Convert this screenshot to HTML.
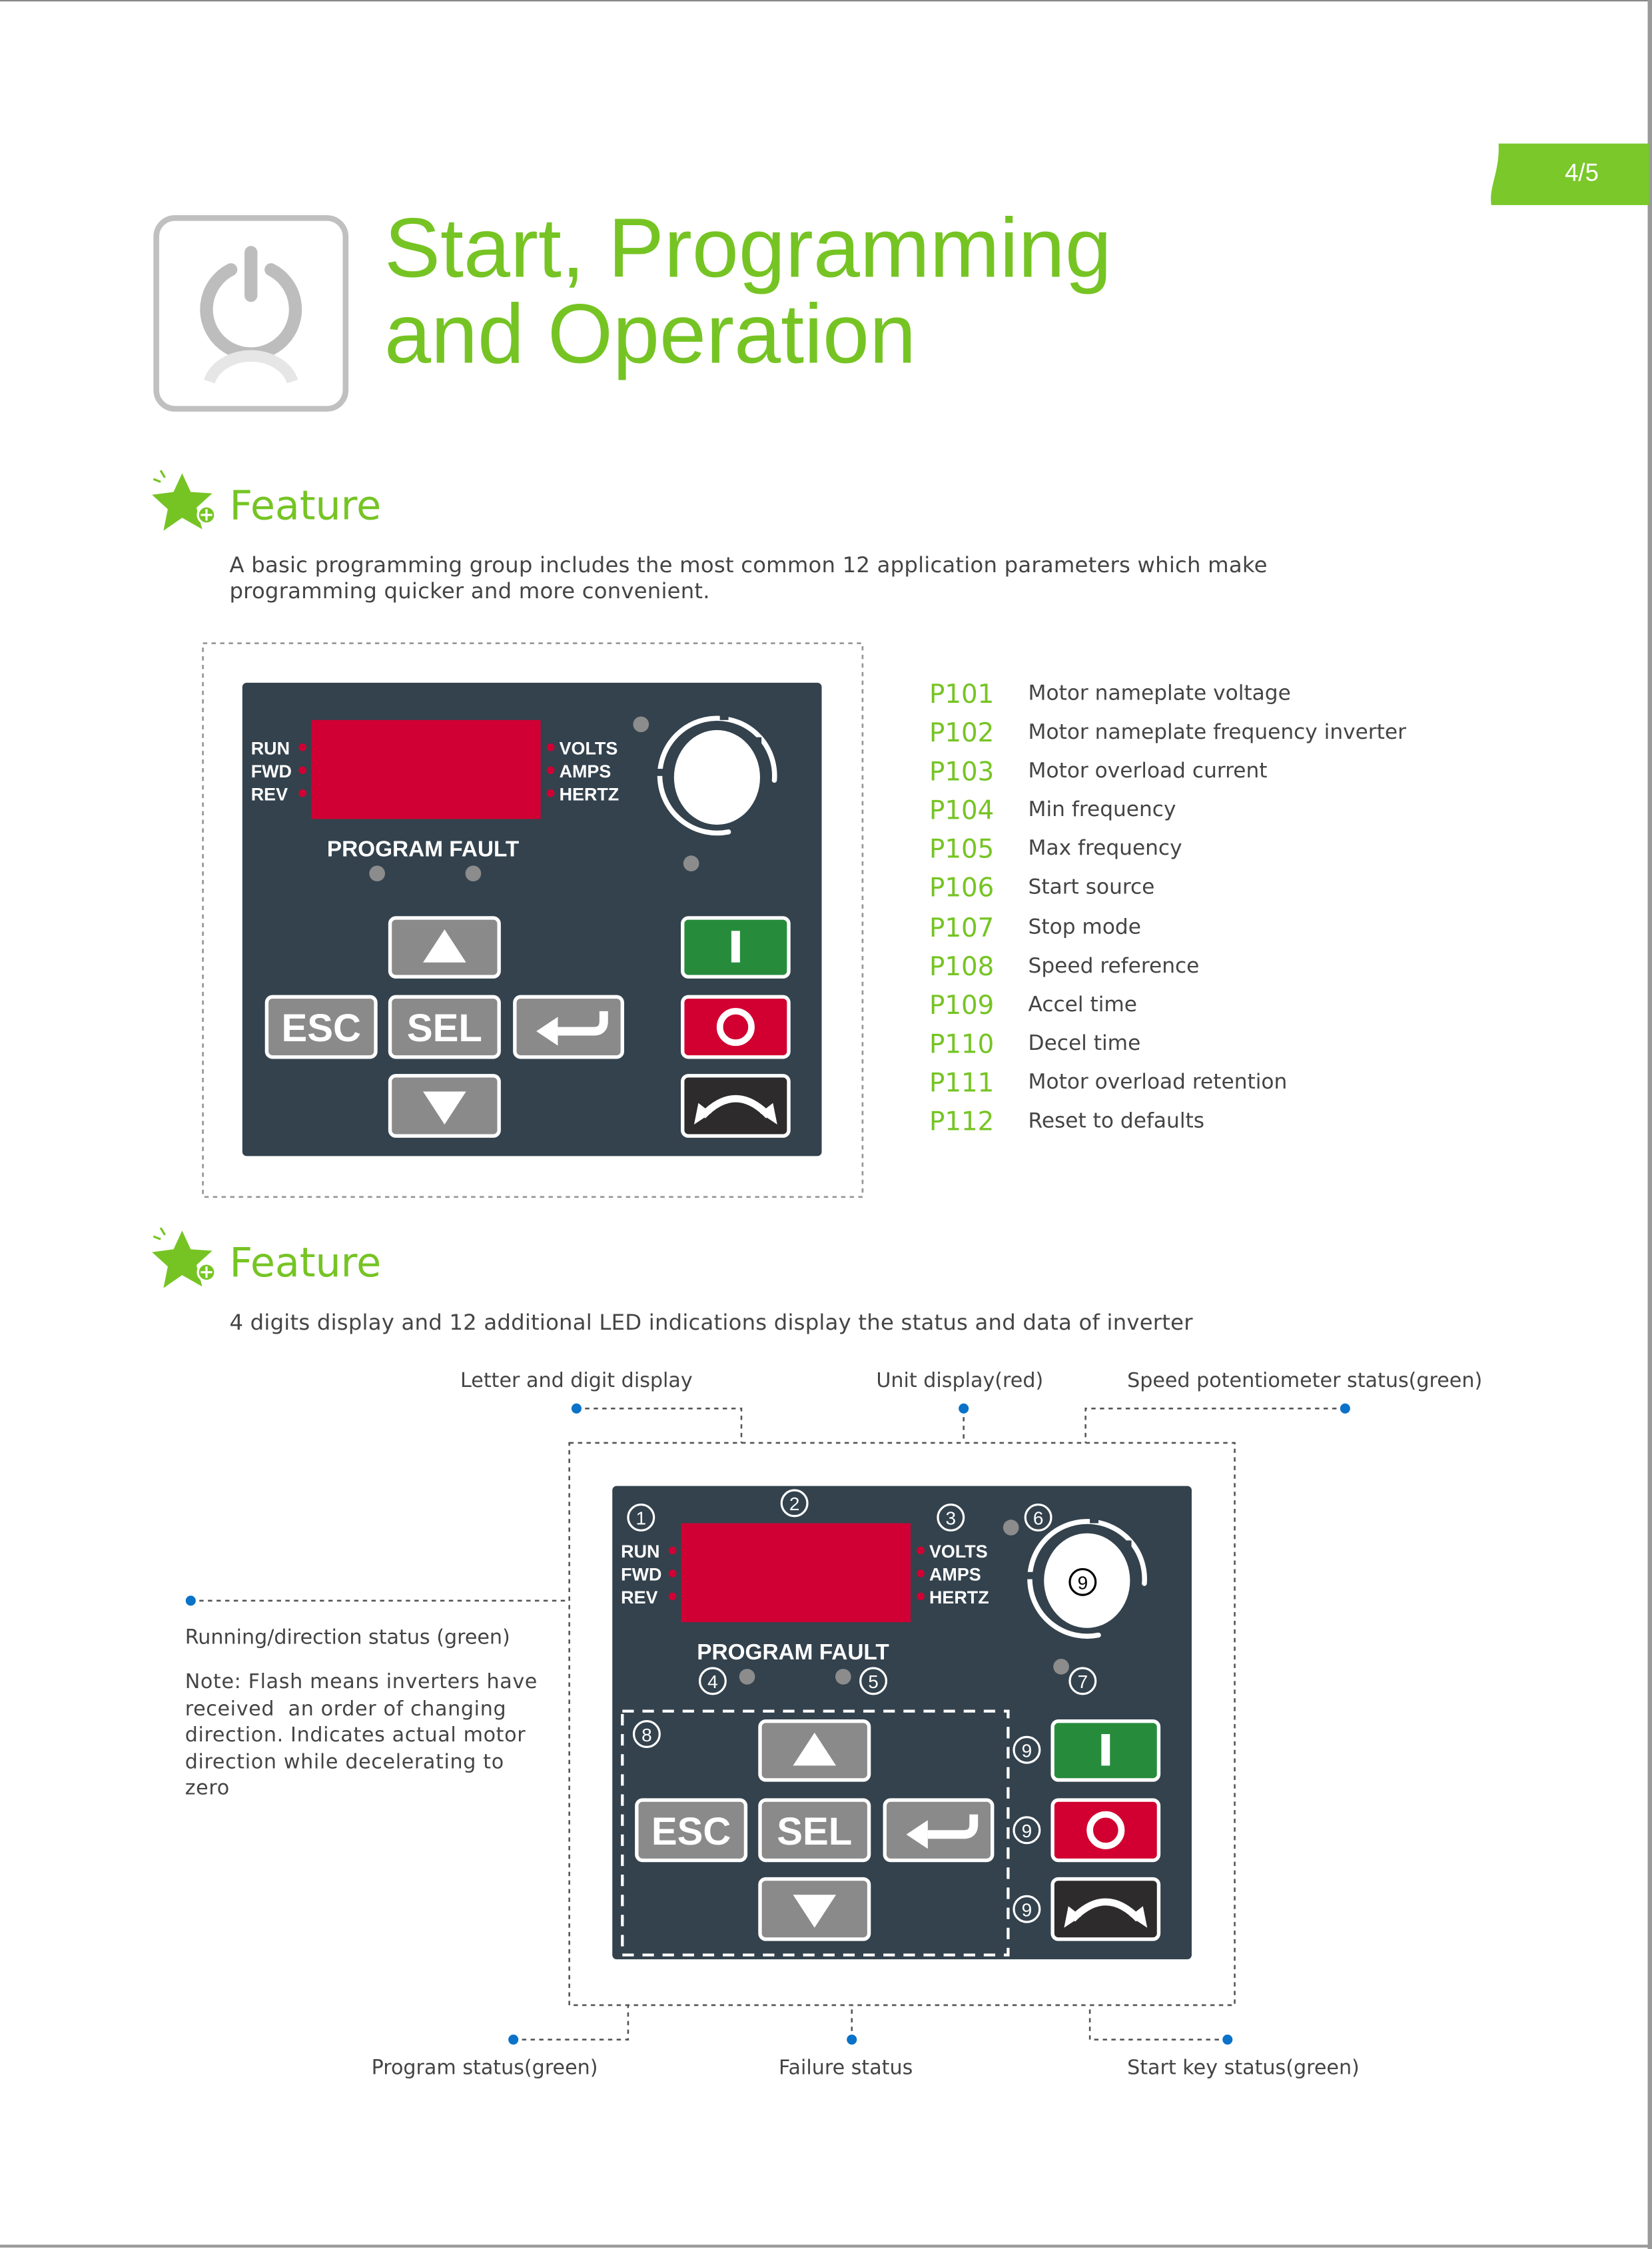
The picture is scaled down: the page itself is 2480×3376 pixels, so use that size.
<!DOCTYPE html>
<html><head><meta charset="utf-8">
<style>
html,body{margin:0;padding:0;background:#fff;}
body{width:2480px;height:3376px;overflow:hidden;position:relative;}
#p{position:absolute;left:0;top:0;width:1152px;height:1568px;transform-origin:0 0;transform:scale(2.15278,2.15306);font-family:"DejaVu Sans","Liberation Sans",sans-serif;color:#444;}
.a{position:absolute;white-space:nowrap;}
.t{font-family:"Liberation Sans",sans-serif;font-size:58.5px;color:#76c424;line-height:60px;}
.f{font-family:"DejaVu Sans",sans-serif;font-size:28px;color:#76c424;}
.b{font-size:15px;color:#444;letter-spacing:0.1px;}
.pc{font-size:18px;color:#76c424;}
.pd{font-size:14.5px;color:#444;}
.l{font-size:14px;color:#444;}
svg{position:absolute;overflow:visible;}
</style></head><body><div id="p">

<div class="a" style="left:0;top:0;width:1150px;height:1px;background:#888"></div>
<div class="a" style="left:1149px;top:0;width:3px;height:1568px;background:#999"></div>
<div class="a" style="left:0;top:1565px;width:1152px;height:2px;background:#999"></div>

<svg style="left:1038px;top:100px" width="112" height="43" viewBox="0 0 112 43">
<path d="M7,0 L112,0 L112,43 L2,43 C0,30 8,20 7,0Z" fill="#7ac82a"/>
<text x="65" y="26" font-family="Liberation Sans" font-size="17" fill="#fff" text-anchor="middle">4/5</text>
</svg>

<svg style="left:104px;top:148px" width="142" height="142" viewBox="0 0 142 142">
<rect x="5" y="4" width="132" height="133" rx="13" fill="#fff" stroke="#c0c0c0" stroke-width="4"/>
<path d="M57,40 A31,31 0 1 0 85,40" fill="none" stroke="#bdbdbd" stroke-width="9" stroke-linecap="round"/>
<line x1="71" y1="28" x2="71" y2="58" stroke="#bdbdbd" stroke-width="9" stroke-linecap="round"/>
<path d="M42,118 A30,24 0 0 1 100,118" fill="none" stroke="#e6e6e6" stroke-width="8"/>
</svg>
<div class="a t" style="left:268px;top:144px">Start, Programming</div>
<div class="a t" style="left:268px;top:204px">and Operation</div>

<svg style="left:104px;top:326px" width="50" height="48" viewBox="0 0 50 48">
<polygon points="23,4 29,17 44,18 33,28 37,43 23,35 10,44 13,29 2,19 17,17" fill="#76c424"/>
<circle cx="40" cy="33" r="6" fill="#76c424" stroke="#fff" stroke-width="1.5"/>
<path d="M40,29 V37 M36,33 H44" stroke="#fff" stroke-width="1.5"/>
<path d="M8,2 L11,7 M3,8 L8,10" stroke="#76c424" stroke-width="1.5"/>
</svg>
<div class="a f" style="left:160px;top:336px">Feature</div>
<div class="a b" style="left:160px;top:385px;line-height:18px">A basic programming group includes the most common 12 application parameters which make<br>programming quicker and more convenient.</div>

<svg style="left:141px;top:448px" width="461" height="387">
<rect x="0.5" y="0.5" width="460" height="386" fill="none" stroke="#999" stroke-width="1.3" stroke-dasharray="3,3"/>
</svg>

<svg id="panel1" style="left:169px;top:476px" width="404" height="330" viewBox="0 0 404 330">
<g id="pnl">
<rect x="0" y="0" width="404" height="330" rx="3" fill="#33424d"/>
<rect x="48" y="26" width="160" height="69" fill="#d10034"/>
<g font-family="Liberation Sans" font-weight="bold" font-size="12.5" fill="#fff">
<text x="6" y="50">RUN</text><text x="6" y="66">FWD</text><text x="6" y="82">REV</text>
<text x="221" y="50">VOLTS</text><text x="221" y="66">AMPS</text><text x="221" y="82">HERTZ</text>
<text x="126" y="121" text-anchor="middle" font-size="15.5">PROGRAM FAULT</text>
</g>
<g fill="#d10034"><circle cx="42" cy="45" r="2.7"/><circle cx="42" cy="61" r="2.7"/><circle cx="42" cy="77" r="2.7"/>
<circle cx="215" cy="45" r="2.7"/><circle cx="215" cy="61" r="2.7"/><circle cx="215" cy="77" r="2.7"/></g>
<g fill="#8c8c8c"><circle cx="278" cy="29" r="5.5"/><circle cx="313" cy="126" r="5.5"/><circle cx="94" cy="133" r="5.5"/><circle cx="161" cy="133" r="5.5"/></g>
<ellipse cx="331" cy="66" rx="30" ry="33" fill="#fff"/>
<path d="M339,104 A40,40 0 1 1 371,68" fill="none" stroke="#fff" stroke-width="3.5" stroke-linecap="round"/>
<rect x="333" y="21" width="6" height="5" fill="#33424d"/><rect x="357" y="38" width="5" height="5" fill="#33424d"/><rect x="289" y="60" width="5" height="5" fill="#33424d"/>
<g stroke="#fff" stroke-width="2.5">
<rect x="103" y="164" width="76" height="41" rx="4" fill="#8a8a8a"/>
<rect x="17" y="219" width="76" height="42" rx="4" fill="#8a8a8a"/>
<rect x="103" y="219" width="76" height="42" rx="4" fill="#8a8a8a"/>
<rect x="190" y="219" width="75" height="42" rx="4" fill="#8a8a8a"/>
<rect x="103" y="274" width="76" height="42" rx="4" fill="#8a8a8a"/>
<rect x="307" y="164" width="74" height="41" rx="4" fill="#268c3c"/>
<rect x="307" y="219" width="74" height="42" rx="4" fill="#d10030"/>
<rect x="307" y="274" width="74" height="42" rx="4" fill="#2d2b2c"/>
</g>
<polygon points="141,172 156,195 126,195" fill="#fff"/>
<polygon points="141,308 156,285 126,285" fill="#fff"/>
<g font-family="Liberation Sans" font-weight="bold" font-size="27" fill="#fff" text-anchor="middle">
<text x="55" y="250">ESC</text><text x="141" y="250">SEL</text></g>
<path d="M252,229 V236 Q252,243 245,243 H220" fill="none" stroke="#fff" stroke-width="6"/>
<polygon points="205,243 220,233 220,253" fill="#fff"/>
<rect x="341" y="173" width="6" height="22" fill="#fff"/>
<ellipse cx="344" cy="240" rx="11" ry="11" fill="none" stroke="#fff" stroke-width="4.5"/>
<path d="M321,302 Q344,278 367,302" fill="none" stroke="#fff" stroke-width="5"/>
<polygon points="315,308 318,293 327,300" fill="#fff"/><polygon points="373,308 370,293 361,300" fill="#fff"/>
</g>
</svg>

<div class="a" style="left:648px;top:471px;line-height:27.1px">
<div><span class="pc">P101</span></div><div><span class="pc">P102</span></div><div><span class="pc">P103</span></div><div><span class="pc">P104</span></div><div><span class="pc">P105</span></div><div><span class="pc">P106</span></div><div><span class="pc">P107</span></div><div><span class="pc">P108</span></div><div><span class="pc">P109</span></div><div><span class="pc">P110</span></div><div><span class="pc">P111</span></div><div><span class="pc">P112</span></div>
</div>
<div class="a pd" style="left:717px;top:471px;line-height:27.1px">
<div>Motor nameplate voltage</div><div>Motor nameplate frequency inverter</div><div>Motor overload current</div><div>Min frequency</div><div>Max frequency</div><div>Start source</div><div>Stop mode</div><div>Speed reference</div><div>Accel time</div><div>Decel time</div><div>Motor overload retention</div><div>Reset to defaults</div>
</div>

<svg style="left:104px;top:854px" width="50" height="48" viewBox="0 0 50 48">
<polygon points="23,4 29,17 44,18 33,28 37,43 23,35 10,44 13,29 2,19 17,17" fill="#76c424"/>
<circle cx="40" cy="33" r="6" fill="#76c424" stroke="#fff" stroke-width="1.5"/>
<path d="M40,29 V37 M36,33 H44" stroke="#fff" stroke-width="1.5"/>
<path d="M8,2 L11,7 M3,8 L8,10" stroke="#76c424" stroke-width="1.5"/>
</svg>
<div class="a f" style="left:160px;top:864px">Feature</div>
<div class="a b" style="left:160px;top:913px">4 digits display and 12 additional LED indications display the status and data of inverter</div>

<div class="a l" style="left:321px;top:955px">Letter and digit display</div>
<div class="a l" style="left:611px;top:955px">Unit display(red)</div>
<div class="a l" style="left:786px;top:955px">Speed potentiometer status(green)</div>
<div class="a l" style="left:129px;top:1134px">Running/direction status (green)</div>
<div class="a l" style="left:129px;top:1164px;line-height:18.5px;letter-spacing:0.3px">Note: Flash means inverters have<br>received &nbsp;an order of changing<br>direction. Indicates actual motor<br>direction while decelerating to<br>zero</div>
<div class="a l" style="left:259px;top:1434px">Program status(green)</div>
<div class="a l" style="left:543px;top:1434px">Failure status</div>
<div class="a l" style="left:786px;top:1434px">Start key status(green)</div>

<svg style="left:0;top:0" width="1152" height="1568">
<g fill="none" stroke="#555" stroke-width="1.2" stroke-dasharray="3,3">
<rect x="397" y="1006" width="464" height="392"/>
<path d="M402,982 H517 V1006"/>
<path d="M672,982 V1006"/>
<path d="M938,982 H757 V1006"/>
<path d="M133,1116 H397"/>
<path d="M358,1422 H438 V1398"/>
<path d="M594,1422 V1398"/>
<path d="M856,1422 H760 V1398"/>
</g>
<g fill="#0a72c8"><circle cx="402" cy="982" r="3.5"/><circle cx="672" cy="982" r="3.5"/><circle cx="938" cy="982" r="3.5"/><circle cx="133" cy="1116" r="3.5"/><circle cx="358" cy="1422" r="3.5"/><circle cx="594" cy="1422" r="3.5"/><circle cx="856" cy="1422" r="3.5"/></g>
</svg>

<svg style="left:427px;top:1036px" width="404" height="330" viewBox="0 0 404 330">
<use href="#pnl"/>
<rect x="7" y="157" width="269" height="170" fill="none" stroke="#fff" stroke-width="2" stroke-dasharray="8,6"/>
<g fill="none" stroke="#fff" stroke-width="1.5">
<circle cx="20" cy="22" r="9"/><circle cx="127" cy="12" r="9"/><circle cx="236" cy="22" r="9"/><circle cx="297" cy="22" r="9"/>
<circle cx="70" cy="136" r="9"/><circle cx="182" cy="136" r="9"/><circle cx="328" cy="136" r="9"/><circle cx="24" cy="173" r="9"/>
<circle cx="289" cy="184" r="9"/><circle cx="289" cy="240" r="9"/><circle cx="289" cy="295" r="9"/>
</g>
<circle cx="328" cy="67" r="9" fill="none" stroke="#000" stroke-width="1.5"/>
<g font-family="Liberation Sans" font-size="13" fill="#fff" text-anchor="middle">
<text x="20" y="27">1</text><text x="127" y="17">2</text><text x="236" y="27">3</text><text x="297" y="27">6</text>
<text x="70" y="141">4</text><text x="182" y="141">5</text><text x="328" y="141">7</text><text x="24" y="178">8</text>
<text x="289" y="189">9</text><text x="289" y="245">9</text><text x="289" y="300">9</text>
<text x="328" y="72" fill="#000">9</text>
</g>
</svg>

</div></body></html>
